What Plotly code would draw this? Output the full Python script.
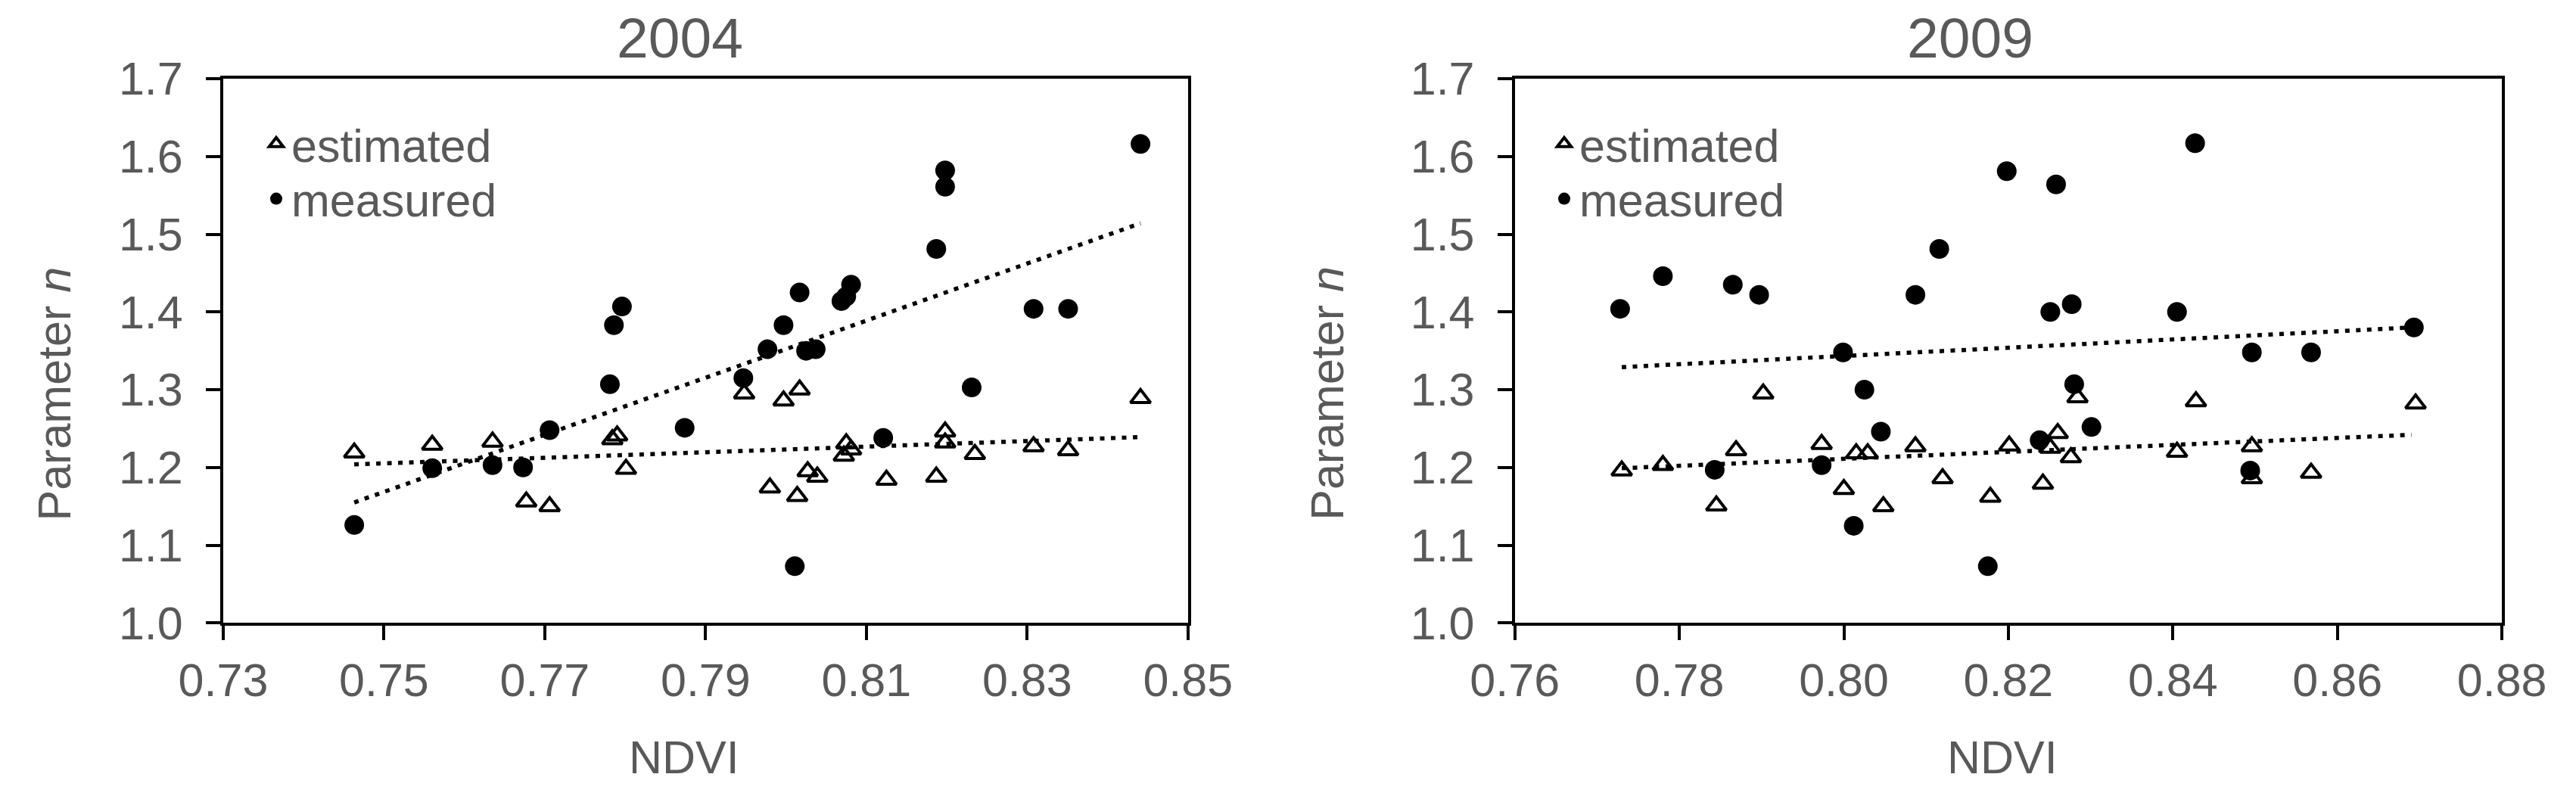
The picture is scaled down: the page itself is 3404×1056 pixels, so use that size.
import plotly.graph_objects as go

# 2004 - estimated (open triangles)
ndvi_est_2004 = [0.7463, 0.7560, 0.7635, 0.7677, 0.7706, 0.7784, 0.7790, 0.7801, 0.7948,
                 0.7980, 0.7997, 0.8014, 0.8017, 0.8027, 0.8039, 0.8072, 0.8075, 0.8081,
                 0.8125, 0.8187, 0.8198, 0.8198, 0.8235, 0.8308, 0.8351, 0.8441]
n_est_2004 = [1.219, 1.229, 1.233, 1.156, 1.150, 1.236, 1.241, 1.198, 1.295,
              1.174, 1.286, 1.163, 1.300, 1.195, 1.188, 1.215, 1.231, 1.223,
              1.184, 1.188, 1.246, 1.232, 1.217, 1.227, 1.222, 1.289]

# 2004 - measured (filled circles)
ndvi_meas_2004 = [0.7463, 0.7560, 0.7635, 0.7673, 0.7706, 0.7781, 0.7786, 0.7796, 0.7874,
                  0.7947, 0.7977, 0.7997, 0.8011, 0.8017, 0.8025, 0.8037, 0.8069, 0.8075,
                  0.8081, 0.8121, 0.8187, 0.8198, 0.8198, 0.8231, 0.8308, 0.8351, 0.8441]
n_meas_2004 = [1.126, 1.199, 1.203, 1.200, 1.248, 1.307, 1.383, 1.407, 1.251,
               1.315, 1.352, 1.383, 1.073, 1.425, 1.350, 1.352, 1.414, 1.420,
               1.435, 1.238, 1.481, 1.561, 1.582, 1.303, 1.404, 1.404, 1.616]

# 2009 - estimated
ndvi_est_2009 = [0.7730, 0.7780, 0.7845, 0.7869, 0.7902, 0.7973, 0.8000, 0.8015, 0.8029,
                 0.8048, 0.8087, 0.8120, 0.8178, 0.8201, 0.8242, 0.8251, 0.8260, 0.8276,
                 0.8284, 0.8405, 0.8428, 0.8496, 0.8496, 0.8568, 0.8695]
n_est_2009 = [1.196, 1.203, 1.151, 1.222, 1.295, 1.230, 1.172, 1.218, 1.218,
              1.150, 1.227, 1.186, 1.162, 1.228, 1.179, 1.225, 1.244, 1.213,
              1.290, 1.220, 1.285, 1.227, 1.186, 1.193, 1.282]

# 2009 - measured
ndvi_meas_2009 = [0.7728, 0.7780, 0.7843, 0.7865, 0.7897, 0.7973, 0.7999, 0.8012, 0.8025,
                  0.8045, 0.8087, 0.8116, 0.8175, 0.8198, 0.8238, 0.8251, 0.8258, 0.8277,
                  0.8280, 0.8301, 0.8405, 0.8427, 0.8494, 0.8496, 0.8568, 0.8693]
n_meas_2009 = [1.404, 1.446, 1.197, 1.435, 1.422, 1.203, 1.348, 1.125, 1.300,
               1.246, 1.422, 1.481, 1.073, 1.581, 1.235, 1.400, 1.564, 1.410,
               1.307, 1.252, 1.400, 1.617, 1.196, 1.348, 1.348, 1.380]

# linear trend lines (end points)
trend_ndvi_2004 = [0.7463, 0.8441]
trend_est_2004 = [1.204, 1.239]
trend_meas_2004 = [1.155, 1.514]
trend_ndvi_2009 = [0.7730, 0.8690]
trend_est_2009 = [1.199, 1.242]
trend_meas_2009 = [1.329, 1.380]

y_ticks = [1.0, 1.1, 1.2, 1.3, 1.4, 1.5, 1.6, 1.7]
x_ticks_2004 = [0.73, 0.75, 0.77, 0.79, 0.81, 0.83, 0.85]
x_ticks_2009 = [0.76, 0.78, 0.80, 0.82, 0.84, 0.86, 0.88]

FONT = "Liberation Sans, Arial, sans-serif"
GREY = "#595959"
DOTS = "6px,8.5px"

fig = go.Figure()

# (x axis, y axis, legend for estimated, legend for measured, data...)
panels = [
    ("x", "y", "legend", "legend3", ndvi_est_2004, n_est_2004, ndvi_meas_2004, n_meas_2004,
     trend_ndvi_2004, trend_est_2004, trend_meas_2004),
    ("x2", "y2", "legend2", "legend4", ndvi_est_2009, n_est_2009, ndvi_meas_2009, n_meas_2009,
     trend_ndvi_2009, trend_est_2009, trend_meas_2009),
]

for xa, ya, lg_e, lg_m, xe, ye, xm, ym, tx, te, tm in panels:
    fig.add_trace(go.Scatter(x=tx, y=te, mode="lines", xaxis=xa, yaxis=ya, showlegend=False,
                             line=dict(color="black", width=5.5, dash=DOTS), hoverinfo="skip"))
    fig.add_trace(go.Scatter(x=tx, y=tm, mode="lines", xaxis=xa, yaxis=ya, showlegend=False,
                             line=dict(color="black", width=5.5, dash=DOTS), hoverinfo="skip"))
    fig.add_trace(go.Scatter(x=xe, y=ye, mode="markers", name="estimated", xaxis=xa, yaxis=ya,
                             legend=lg_e,
                             marker=dict(symbol="triangle-up-open", size=23, color="black",
                                         line=dict(color="black", width=4))))
    fig.add_trace(go.Scatter(x=xm, y=ym, mode="markers", name="measured", xaxis=xa, yaxis=ya,
                             legend=lg_m,
                             marker=dict(symbol="circle", size=26, color="black")))

axis_style = dict(
    showline=True, linecolor="black", linewidth=4, mirror=True,
    ticks="outside", ticklen=19, tickwidth=4, tickcolor="black",
    showgrid=False, zeroline=False, automargin=False,
    tickfont=dict(family=FONT, size=61, color=GREY),
)

legend_style = dict(xanchor="left", yanchor="middle", bgcolor="rgba(0,0,0,0)",
                    font=dict(family=FONT, size=61, color=GREY), itemwidth=30)

fig.update_layout(
    width=3404, height=1056,
    margin=dict(l=0, r=0, t=0, b=0, autoexpand=False),
    plot_bgcolor="white", paper_bgcolor="white",
    font=dict(family=FONT, color=GREY),
    xaxis=dict(domain=[0.0843, 0.4588], range=[0.73, 0.85], tickvals=x_ticks_2004,
               tickformat=".2f", anchor="y", **axis_style),
    yaxis=dict(domain=[0.2279, 0.9091], range=[1.0, 1.7], tickvals=y_ticks,
               tickformat=".1f", anchor="x", ticklabelstandoff=18, **axis_style),
    xaxis2=dict(domain=[0.5857, 0.9689], range=[0.76, 0.88], tickvals=x_ticks_2009,
                tickformat=".2f", anchor="y2", **axis_style),
    yaxis2=dict(domain=[0.2279, 0.9091], range=[1.0, 1.7], tickvals=y_ticks,
                tickformat=".1f", anchor="x2", ticklabelstandoff=18, **axis_style),
    legend=dict(x=0.099, y=0.8276, **legend_style),
    legend3=dict(x=0.099, y=0.7586, **legend_style),
    legend2=dict(x=0.599, y=0.8276, **legend_style),
    legend4=dict(x=0.599, y=0.7586, **legend_style),
)

titles = [
    dict(text="2004", x=0.2615, y=0.960, size=75),
    dict(text="2009", x=0.7624, y=0.960, size=75),
    dict(text="NDVI", x=0.2633, y=0.0597, size=61),
    dict(text="NDVI", x=0.7750, y=0.0597, size=61),
]
for t in titles:
    fig.add_annotation(text=t["text"], x=t["x"], y=t["y"], xref="paper", yref="paper",
                       xanchor="center", yanchor="middle", showarrow=False,
                       font=dict(family=FONT, size=t["size"], color=GREY))

for xpos in [0.0189, 0.5131]:
    fig.add_annotation(text="Parameter <i>n</i>", x=xpos, y=0.515, xref="paper", yref="paper",
                       xanchor="center", yanchor="middle", textangle=-90, showarrow=False,
                       font=dict(family=FONT, size=61, color=GREY))

fig.write_html("out.html")
